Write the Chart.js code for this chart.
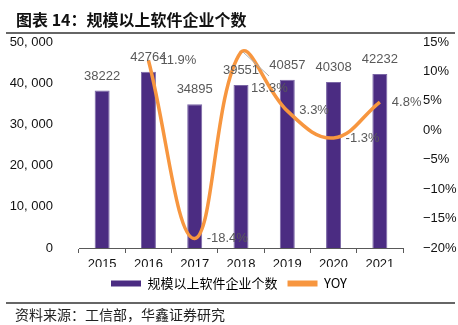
<!DOCTYPE html>
<html>
<head>
<meta charset="utf-8">
<script src="https://cdn.jsdelivr.net/npm/chart.js@4/dist/chart.umd.min.js"></script>
<style>
  html, body { margin: 0; padding: 0; background: #fff; }
  #wrap { position: relative; width: 458px; height: 325px; overflow: hidden; }
  #c { position: absolute; left: 0; top: 0; }
  .title { position: absolute; left: 16px; top: 7px; font: bold 16px "Noto Sans CJK SC", sans-serif; color: #111; white-space: nowrap; }
  .rule { position: absolute; left: 6px; width: 449px; height: 2px; background: #666; }
  .src { position: absolute; left: 15px; top: 304px; font: 14px "Noto Sans CJK SC", sans-serif; color: #222; white-space: nowrap; }
</style>
</head>
<body>
<div id="wrap">
  <canvas id="c" width="458" height="325"></canvas>
  <div class="title">图表 14：规模以上软件企业个数</div>
  <div class="rule" style="top:32px"></div>
  <div class="rule" style="top:302px"></div>
  <div class="src">资料来源：工信部，华鑫证券研究</div>
</div>
<script>
// data
var tahun    = ['2015', '2016', '2017', '2018', '2019', '2020', '2021'];
var jumlah   = [38222, 42764, 34895, 39551, 40857, 40308, 42232];
var yoy      = [null, 11.9, -18.4, 13.3, 3.3, -1.3, 4.8];
var yoyLabel = ['', '11.9%', '-18.4%', '13.3%', '3.3%', '-1.3%', '4.8%'];
var namaBar  = '规模以上软件企业个数';
var namaLine = 'YOY';

var UNGU   = '#4B2C82';
var ORANYE = '#F7963F';
var ABU    = '#595959';
var fontLat = '"Liberation Sans", Arial, sans-serif';

// label angka di atas bar dan di samping titik yoy
var labelPlugin = {
  id: 'labelData',
  afterDatasetsDraw: function(chart) {
    let ctx = chart.ctx;
    ctx.save();
    ctx.font = '13px ' + fontLat;
    ctx.fillStyle = ABU;

    let metaBar = chart.getDatasetMeta(1);
    ctx.textAlign = 'center';
    ctx.textBaseline = 'bottom';
    metaBar.data.forEach(function(el, i) {
      ctx.fillText(String(jumlah[i]), el.x, el.y - 8);
    });

    let metaLine = chart.getDatasetMeta(0);
    ctx.textAlign = 'left';
    ctx.textBaseline = 'middle';
    metaLine.data.forEach(function(el, i) {
      if (yoy[i] === null) return;
      let x = el.x + 12, y = el.y;
      if (i === 3) {
        // label 2018 digeser ke bawah, pakai garis penunjuk
        ctx.strokeStyle = '#aaaaaa';
        ctx.lineWidth = 1;
        ctx.beginPath();
        ctx.moveTo(el.x + 2, el.y);
        ctx.lineTo(el.x + 28, el.y + 24);
        ctx.stroke();
        x = el.x + 10; y = el.y + 36;
      }
      ctx.fillText(yoyLabel[i], x, y);
    });
    ctx.restore();
  }
};

new Chart(document.getElementById('c'), {
  data: {
    labels: tahun,
    datasets: [
      {
        type: 'line',
        label: namaLine,
        data: yoy,
        yAxisID: 'y1',
        borderColor: ORANYE,
        backgroundColor: ORANYE,
        borderWidth: 3.5,
        tension: 0.4,
        pointRadius: 0,
        spanGaps: false,
      },
      {
        type: 'bar',
        label: namaBar,
        data: jumlah,
        yAxisID: 'y',
        backgroundColor: UNGU,
        borderColor: '#7b67a6',
        borderWidth: { left: 1, right: 1, top: 1, bottom: 0 },
        categoryPercentage: 1,
        barPercentage: 0.324,
      },
    ],
  },
  options: {
    responsive: false,
    animation: false,
    devicePixelRatio: 1,
    layout: { padding: { top: 42, left: 0, right: 0, bottom: 25 } },
    plugins: {
      tooltip: { enabled: false },
      legend: {
        display: true,
        position: 'bottom',
        labels: {
          boxWidth: 30,
          boxHeight: 6,
          padding: 10,
          color: '#222',
          font: { size: 13, family: '"Noto Sans CJK SC", sans-serif' },
          generateLabels: function() {
            return [
              { text: namaBar, fillStyle: UNGU, strokeStyle: UNGU, lineWidth: 0, datasetIndex: 1 },
              { text: namaLine, fillStyle: ORANYE, strokeStyle: ORANYE, lineWidth: 0, datasetIndex: 0 },
            ];
          },
        },
      },
    },
    scales: {
      x: {
        offset: true,
        afterFit: function(s) { s.height = 19; },
        grid: { display: true, offset: true, drawOnChartArea: false, drawTicks: true, tickLength: 5, color: ABU },
        border: { display: true, color: ABU, width: 1 },
        ticks: { color: '#111', padding: 4, font: { size: 13, family: fontLat }, maxRotation: 0 },
      },
      y: {
        position: 'left',
        min: 0, max: 50000,
        afterFit: function(s) { s.width = 79; },
        grid: { display: false },
        border: { display: false },
        ticks: {
          stepSize: 10000,
          padding: 18,
          color: '#111',
          font: { size: 13, family: fontLat },
          callback: function(v) { return v === 0 ? '0' : v.toLocaleString('en-US').replace(',', ', '); },
        },
      },
      y1: {
        position: 'right',
        min: -20, max: 15,
        afterFit: function(s) { s.width = 55; },
        grid: { display: false },
        border: { display: false },
        ticks: {
          stepSize: 5,
          padding: 12,
          color: '#111',
          font: { size: 13, family: fontLat },
          callback: function(v) { return (v < 0 ? '\u2212' : '') + Math.abs(v) + '%'; },
        },
      },
    },
  },
  plugins: [labelPlugin],
});
</script>
</body>
</html>
